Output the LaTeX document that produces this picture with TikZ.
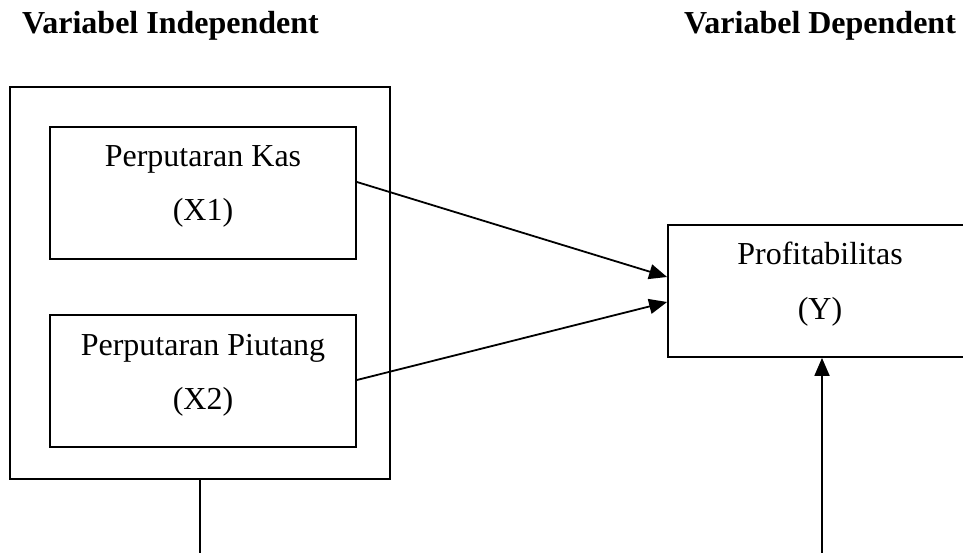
\documentclass[tikz,border=0pt]{standalone}
\usepackage{fontspec}
\setmainfont{Liberation Serif}
\usetikzlibrary{arrows.meta}
\begin{document}
\begin{tikzpicture}[x=1pt,y=-1pt,
  boxline/.style={draw=black,line width=1.8pt},
  lbl/.style={anchor=base,inner sep=0pt,font=\fontsize{32}{38}\selectfont},
  head/.style={anchor=base west,inner sep=0pt,font=\fontsize{32}{38}\selectfont\bfseries},
  conn/.style={line width=1.8pt,-{Triangle[length=18pt,width=15pt]}}]
\useasboundingbox (0,0) rectangle (963,553);
\clip (0,0) rectangle (963,553);
% headings
\node[head] (hind) at (22,34) {Variabel Independent};
\node[head] (hdep) at (684,34) {Variabel Dependent};
% boxes
\node[boxline,inner sep=0pt,minimum width=380pt,minimum height=392pt] (outer) at (200,283) {};
\node[boxline,inner sep=0pt,minimum width=306pt,minimum height=132pt] (x1) at (203,193) {};
\node[boxline,inner sep=0pt,minimum width=306pt,minimum height=132pt] (x2) at (203,381) {};
\node[boxline,inner sep=0pt,minimum width=330pt,minimum height=132pt] (y) at (833,291) {};
% labels
\node[lbl] (x1a) at (203,167) {Perputaran Kas};
\node[lbl] (x1b) at (203,221) {(X1)};
\node[lbl] (x2a) at (203,355) {Perputaran Piutang};
\node[lbl] (x2b) at (203,409) {(X2)};
\node[lbl] (ya) at (820,265) {Profitabilitas};
\node[lbl] (yb) at (820,319) {(Y)};
% connectors
\coordinate (a1s) at (x1.east |- 0,182);
\coordinate (a1e) at (y.west |- 0,277);
\coordinate (a2s) at (x2.east |- 0,380);
\coordinate (a2e) at (y.west |- 0,302);
\draw[conn] (a1s) -- (a1e);
\draw[conn] (a2s) -- (a2e);
\coordinate (lb) at (200,556);
\coordinate (rb) at (822,556);
\draw[line width=1.8pt] (outer.south) -- (lb);
\draw[conn] (rb) -- (rb |- y.south);
\end{tikzpicture}
\end{document}
